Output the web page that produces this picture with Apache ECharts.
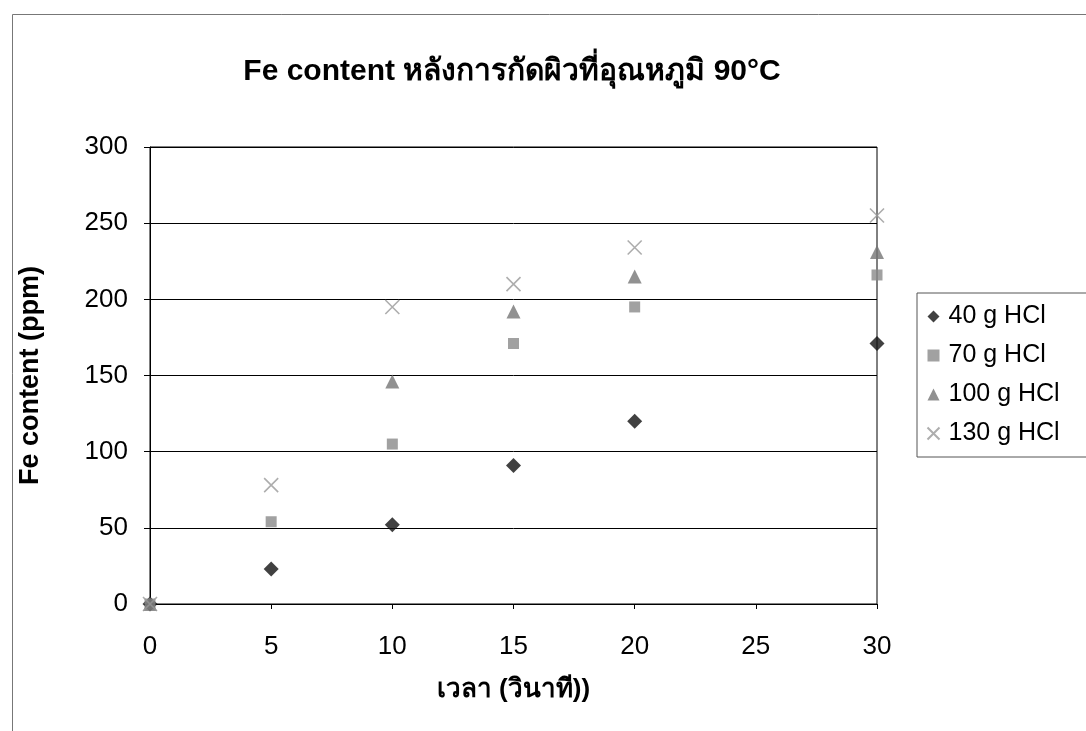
<!DOCTYPE html>
<html>
<head>
<meta charset="utf-8">
<script src="https://cdn.jsdelivr.net/npm/echarts@6/dist/echarts.min.js"></script>
<style>
  html, body { margin: 0; padding: 0; background: #fff; }
  #chart { width: 1086px; height: 731px; }
</style>
</head>
<body>
<div id="chart"></div>
<script>
// Etching time (s) versus Fe content (ppm) at 90°C for four HCl concentrations
const seriesNames = ['40 g HCl', '70 g HCl', '100 g HCl', '130 g HCl'];
const hcl40  = [[0, 0], [5, 23], [10, 52], [15, 91], [20, 120], [30, 171]];
const hcl70  = [[0, 0], [5, 54], [10, 105], [15, 171], [20, 195], [30, 216]];
const hcl100 = [[0, 0], [10, 146], [15, 192], [20, 215], [30, 231]];
const hcl130 = [[0, 0], [5, 78], [10, 195], [15, 210], [20, 234], [30, 255]];

const FONT = 'Liberation Sans, Arial, DejaVu Sans, Noto Sans, sans-serif';
const crossPath = 'path://M0,0 L10,10 M10,0 L0,10';

const chart = echarts.init(document.getElementById('chart'));
chart.setOption({
  backgroundColor: '#fff',
  animation: false,
  title: {
    text: 'Fe content หลังการกัดผิวที่อุณหภูมิ 90°C',
    left: 507, top: 52, textAlign: 'center',
    textStyle: { fontFamily: FONT, fontSize: 30, fontWeight: 'bold', color: '#000' }
  },
  graphic: [{
    type: 'rect', left: 10, top: 12, silent: true,
    shape: { width: 1100, height: 760 },
    style: { fill: 'none', stroke: '#777', lineWidth: 1 }
  }],
  legend: {
    orient: 'vertical', left: 917, top: 293,
    padding: [11, 40, 11, 8], itemGap: 14,
    itemWidth: 12, itemHeight: 12,
    borderColor: '#555', borderWidth: 1, backgroundColor: '#fff',
    textStyle: { fontFamily: FONT, fontSize: 25, color: '#000', padding: [0, 0, 0, 4] },
    data: seriesNames
  },
  grid: {
    left: 150, top: 147, right: 209, bottom: 127,
    show: true, borderColor: '#000', borderWidth: 1
  },
  xAxis: {
    type: 'value', min: 0, max: 30, interval: 5,
    name: 'เวลา (วินาที))', nameLocation: 'middle', nameGap: 73,
    nameTextStyle: { fontFamily: FONT, fontSize: 26, fontWeight: 'bold', color: '#000' },
    axisLine: { show: true, lineStyle: { color: '#000' } },
    axisTick: { show: true, inside: false, length: 5, lineStyle: { color: '#000' } },
    axisLabel: { fontFamily: FONT, fontSize: 26, color: '#000', margin: 30 },
    splitLine: { show: false }
  },
  yAxis: {
    type: 'value', min: 0, max: 300, interval: 50,
    name: 'Fe content (ppm)', nameLocation: 'middle', nameGap: 106, nameRotate: 90,
    nameTextStyle: { fontFamily: FONT, fontSize: 27, fontWeight: 'bold', color: '#000' },
    axisLine: { show: true, lineStyle: { color: '#000' } },
    axisTick: { show: true, inside: false, length: 6, lineStyle: { color: '#000' } },
    axisLabel: { fontFamily: FONT, fontSize: 26, color: '#000', margin: 22 },
    splitLine: { show: true, lineStyle: { color: '#000', width: 1 } }
  },
  series: [
    {
      name: seriesNames[0], type: 'scatter', data: hcl40,
      symbol: 'diamond', symbolSize: 15,
      itemStyle: { color: '#111' }
    },
    {
      name: seriesNames[1], type: 'scatter', data: hcl70,
      symbol: 'rect', symbolSize: 11,
      itemStyle: { color: '#8a8a8a' }
    },
    {
      name: seriesNames[2], type: 'scatter', data: hcl100,
      symbol: 'triangle', symbolSize: 14,
      itemStyle: { color: '#767676' }
    },
    {
      name: seriesNames[3], type: 'scatter', data: hcl130,
      symbol: crossPath, symbolSize: 14,
      itemStyle: { color: 'none', borderColor: '#999', borderWidth: 1.6 }
    }
  ]
});
</script>
</body>
</html>
